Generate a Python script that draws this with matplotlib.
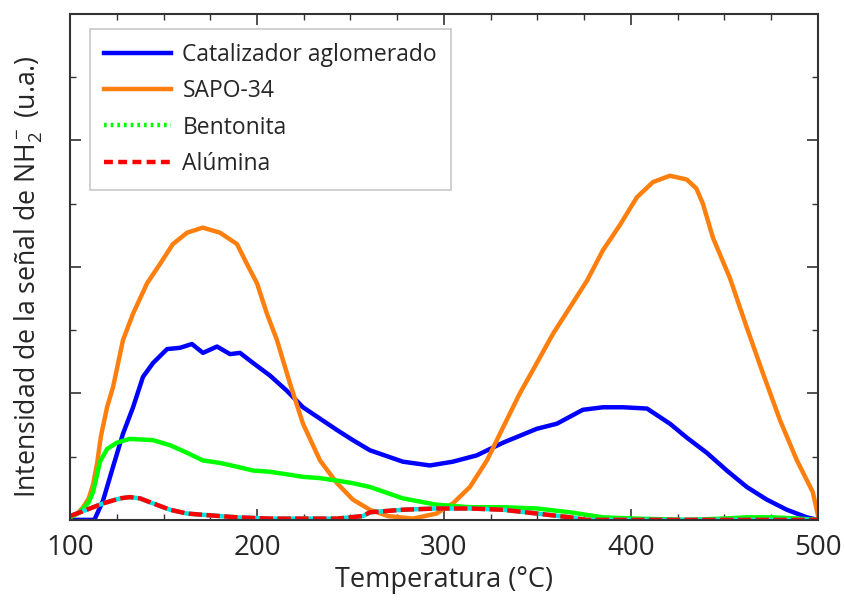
import matplotlib.pyplot as plt
from matplotlib.lines import Line2D
from matplotlib.ticker import MultipleLocator

plt.rcParams['font.family'] = ['Open Sans', 'DejaVu Sans']
plt.rcParams['mathtext.default'] = 'regular'

# Curvas TPD (intensidad en u.a.)
t_cat = [100, 113, 117.6, 123, 128.3, 133.7, 139, 144.4, 151.9, 158.8, 165.2, 171.1, 178.6,
         185.6, 190.9, 197.9, 207, 216, 224.6, 233.7, 242.8, 251.3, 260.4, 278, 292.5, 304.8,
         317.6, 331.6, 349.7, 360.4, 374.3, 385, 395.7, 408.6, 420.9, 429.9, 440.6, 451.3,
         462, 472.7, 483.4, 494.1, 500]
i_cat = [0, 0, 0.15, 0.42, 0.68, 0.89, 1.13, 1.24, 1.35, 1.36, 1.39, 1.32, 1.37,
         1.31, 1.32, 1.24, 1.14, 1.02, 0.89, 0.80, 0.71, 0.63, 0.55, 0.46, 0.43, 0.46,
         0.51, 0.61, 0.72, 0.76, 0.87, 0.89, 0.89, 0.88, 0.76, 0.65, 0.53, 0.39,
         0.26, 0.16, 0.08, 0.02, 0]

t_sapo = [100, 104, 107, 110, 112.3, 114.5, 116.5, 119.8, 123, 128.3, 133.7, 141.2, 148, 155,
          162.6, 171, 180.2, 189.3, 194.7, 200, 205.3, 210.7, 217.6, 224.6, 233.7, 242.8,
          251.3, 260.4, 270, 283.4, 296, 304.8, 313.9, 323, 331.6, 340.6, 349.7, 358.3,
          367.4, 376.5, 385, 394.1, 403.2, 411.8, 420.9, 429.9, 435, 438.5, 443.9, 453, 462,
          470.6, 479.7, 488.8, 497.3, 500]
i_sapo = [0.02, 0.05, 0.10, 0.17, 0.28, 0.45, 0.66, 0.89, 1.05, 1.42, 1.63, 1.87, 2.02, 2.18,
          2.27, 2.31, 2.27, 2.18, 2.02, 1.87, 1.63, 1.42, 1.08, 0.76, 0.47, 0.29,
          0.16, 0.08, 0.03, 0.01, 0.05, 0.13, 0.26, 0.47, 0.73, 1.00, 1.24, 1.47,
          1.68, 1.89, 2.13, 2.33, 2.55, 2.67, 2.72, 2.69, 2.62, 2.50, 2.23, 1.91, 1.52,
          1.16, 0.79, 0.47, 0.22, 0.04]

t_bent = [100, 105.3, 110, 112.3, 114.5, 116, 119.8, 125, 132, 144.4, 153.5, 162.6, 171,
          180.2, 189.3, 197.9, 207, 216, 224.6, 233.7, 242.8, 251.3, 260.4, 278, 296, 313.9,
          331.6, 349.7, 367.4, 385, 403, 430, 449, 462, 476, 490, 500]
i_bent = [0.02, 0.06, 0.14, 0.22, 0.36, 0.46, 0.56, 0.61, 0.64, 0.63, 0.59, 0.53, 0.47,
          0.45, 0.42, 0.39, 0.38, 0.36, 0.34, 0.33, 0.31, 0.29, 0.26, 0.17, 0.12, 0.10,
          0.10, 0.09, 0.06, 0.02, 0.01, 0.0, 0.01, 0.02, 0.02, 0.01, 0.0]

t_alu = [100, 110.7, 117.6, 126.7, 132, 137.4, 144.4, 153.5, 162.6, 171, 189.3, 207, 224.6,
         242.8, 256.7, 260.4, 278, 296, 313.9, 331.6, 349.7, 367.4, 376, 400, 450, 500]
i_alu = [0.03, 0.09, 0.13, 0.17, 0.18, 0.17, 0.13, 0.08, 0.05, 0.04, 0.02, 0.01, 0.01,
         0.01, 0.03, 0.06, 0.08, 0.09, 0.09, 0.08, 0.05, 0.02, 0.0, 0.0, 0.0, 0.0]

labels = ['Catalizador aglomerado', 'SAPO-34', 'Bentonita', 'Alúmina']

fig = plt.figure(figsize=(8.44, 6.01), dpi=100)
ax = fig.add_axes([0.083, 0.135, 0.886, 0.842])

ax.plot(t_cat, i_cat, color='#0000ff', lw=3.2)
ax.plot(t_sapo, i_sapo, color='#ff7f0e', lw=3.2)
ax.plot(t_bent, i_bent, color='#00ff00', lw=3.2)
ax.plot(t_alu, i_alu, color='#00e5e5', lw=3.2)
ax.plot(t_alu, i_alu, color='#ff0000', lw=3.2, linestyle=(0, (3, 1)))

ax.set_xlim(100, 500)
ax.set_ylim(0, 4)
ax.set_xticks([100, 200, 300, 400, 500])
ax.xaxis.set_minor_locator(MultipleLocator(25))
ax.yaxis.set_major_locator(MultipleLocator(1))
ax.yaxis.set_minor_locator(MultipleLocator(0.5))
ax.set_yticklabels([])
ax.tick_params(which='both', direction='in', top=True, right=True, color='#333333')
ax.tick_params(which='major', length=8, width=1.2, labelsize=20, labelcolor='#262626', pad=10)
ax.tick_params(which='minor', length=4, width=1.0)
for s in ax.spines.values():
    s.set_color('#333333')
    s.set_linewidth(1.5)

ax.set_xlabel('Temperatura (°C)', fontsize=19.5, color='#262626', labelpad=3)
ax.set_ylabel('Intensidad de la señal de NH$_2^-$ (u.a.)', fontsize=19.2, color='#262626')
ax.yaxis.set_label_coords(-0.034, 0.48)

handles = [Line2D([], [], color='#0000ff', lw=3.2),
           Line2D([], [], color='#ff7f0e', lw=3.2),
           Line2D([], [], color='#00ff00', lw=3.2, linestyle=(0, (0.6, 0.9))),
           Line2D([], [], color='#ff0000', lw=3.2, linestyle=(0, (2, 1.2)))]
leg = ax.legend(handles, labels, loc='upper left', bbox_to_anchor=(0.027, 0.97),
                borderaxespad=0, fontsize=16.5, fancybox=False, framealpha=1,
                edgecolor='#c8c8c8', handlelength=2.9, handletextpad=0.5,
                labelspacing=0.53, borderpad=0.62, labelcolor='#262626')
leg.get_frame().set_linewidth(1.2)

plt.savefig('out.png', dpi=100)
